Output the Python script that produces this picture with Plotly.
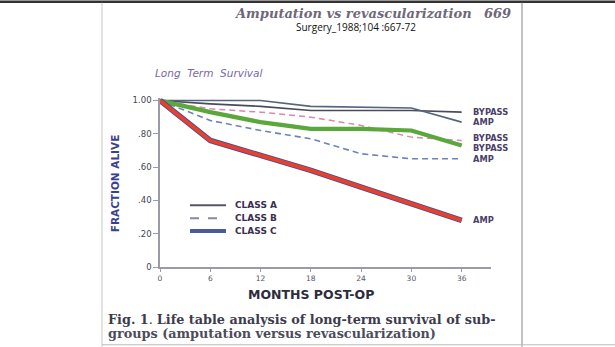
import plotly.graph_objects as go

# ---- data ----
months = [0, 6, 12, 18, 24, 30, 36]
class_a_bypass = [1.00, 0.98, 0.965, 0.94, 0.94, 0.94, 0.93]
class_a_amp = [1.00, 1.00, 1.00, 0.965, 0.96, 0.955, 0.87]
class_b_bypass = [1.00, 0.95, 0.93, 0.90, 0.85, 0.78, 0.76]
class_b_amp = [1.00, 0.88, 0.82, 0.77, 0.68, 0.65, 0.65]
class_c_bypass = [1.00, 0.93, 0.87, 0.83, 0.83, 0.82, 0.73]
class_c_amp = [1.00, 0.76, 0.67, 0.58, 0.48, 0.38, 0.28]
y_tick_vals = [0, 0.2, 0.4, 0.6, 0.8, 1.0]
y_tick_text = ["0", ".20", ".40", ".60", ".80", "1.00"]
x_tick_vals = months
x_tick_text = ["0", "6", "12", "18", "24", "30", "36"]
legend_names = ["CLASS A", "CLASS B", "CLASS C"]

W, H = 615, 347
L_PX, R_PX, T_PX, B_PX = 160, 491, 97.5, 267


def px(x):
    return (x - L_PX) / (R_PX - L_PX)


def py(y):
    return (B_PX - y) / (B_PX - T_PX)


fig = go.Figure()

series = [
    (class_b_amp, dict(color="#6d84b8", width=1.6, dash="6px,4px"), "AMP", 0),
    (class_b_bypass, dict(color="#d689a8", width=1.5, dash="6px,4px"), "BYPASS", 2),
    (class_a_bypass, dict(color="#4a4a5c", width=1.6), "BYPASS", 0),
    (class_a_amp, dict(color="#56647c", width=1.6), "AMP", 0),
    (class_c_bypass, dict(color="#5aa83c", width=4.2), "BYPASS", -3),
    (class_c_amp, dict(color="#3e4f98", width=5.5), None, 0),
    (class_c_amp, dict(color="#e8402c", width=3.8), "AMP", 0),
]

for vals, line, lab, ys in series:
    fig.add_trace(go.Scatter(x=months, y=vals, mode="lines", line=line,
                             showlegend=False, hoverinfo="skip"))
    if lab:
        fig.add_annotation(x=months[-1], y=vals[-1], text="<b>" + lab + "</b>",
                           showarrow=False, xanchor="left", yanchor="middle",
                           xshift=9, yshift=ys,
                           font=dict(family="DejaVu Sans", size=8.3, color="#4a4068"))

fig.update_xaxes(range=[0, 39.5], tickvals=x_tick_vals, ticktext=x_tick_text,
                 showline=True, linecolor="#9a9aa8", linewidth=1.5,
                 ticks="outside", ticklen=3, tickcolor="#9a9aa8",
                 showgrid=False, zeroline=False,
                 tickfont=dict(family="DejaVu Sans", size=7.5, color="#555566"))
fig.update_yaxes(range=[0, 1.015], tickvals=y_tick_vals, ticktext=y_tick_text,
                 showline=True, linecolor="#9a9aa8", linewidth=1.5,
                 ticks="outside", ticklen=5, tickcolor="#9a9aa8",
                 showgrid=False, zeroline=False,
                 tickfont=dict(family="DejaVu Sans", size=8.5, color="#444455"))

ann = []
# header
ann.append(dict(x=px(513), y=py(13), text="<b><i>Amputation vs revascularization</i></b>&nbsp;&nbsp;&nbsp;<b><i>669</i></b>",
                xanchor="right", yanchor="middle",
                font=dict(family="DejaVu Serif", size=13, color="#6e6878")))
ann.append(dict(x=px(356), y=py(26), text="Surgery_1988;104 :667-72",
                xanchor="center", yanchor="middle",
                font=dict(family="Open Sans", size=10, color="#111111")))
ann.append(dict(x=px(153), y=py(72), text="<i>Long  Term  Survival</i>",
                xanchor="left", yanchor="middle",
                font=dict(family="DejaVu Sans", size=10.5, color="#7868a8")))
ann.append(dict(x=px(115), y=py(183), text="<b>FRACTION ALIVE</b>", textangle=-90,
                xanchor="center", yanchor="middle",
                font=dict(family="DejaVu Sans", size=10.5, color="#3b3f8f")))
ann.append(dict(x=px(311), y=py(295), text="<b>MONTHS POST-OP</b>",
                xanchor="center", yanchor="middle",
                font=dict(family="DejaVu Sans", size=12.5, color="#2c2c3c")))
ann.append(dict(x=px(106), y=py(320),
                text="<b>Fig. 1</b>. <b>Life table analysis of long-term survival of sub-</b>",
                xanchor="left", yanchor="middle",
                font=dict(family="DejaVu Serif", size=12.8, color="#3c3c4c")))
ann.append(dict(x=px(106), y=py(334),
                text="<b>groups (amputation versus revascularization)</b>",
                xanchor="left", yanchor="middle",
                font=dict(family="DejaVu Serif", size=12.8, color="#4c4c5c")))

# legend (manual)
leg_y = [205, 218, 231]
leg_styles = [dict(color="#55556a", width=2),
              dict(color="#8888a8", width=2, dash="dash"),
              dict(color="#4a5c98", width=4)]
shapes = []
for name, yy, st in zip(legend_names, leg_y, leg_styles):
    shapes.append(dict(type="line", xref="paper", yref="paper",
                       x0=px(190), x1=px(226), y0=py(yy), y1=py(yy), line=st))
    ann.append(dict(x=px(233), y=py(yy), text="<b>" + name + "</b>",
                    xanchor="left", yanchor="middle",
                    font=dict(family="DejaVu Sans", size=9, color="#3a3050")))

for a in ann:
    a.update(xref="paper", yref="paper", showarrow=False)
    fig.add_annotation(**a)

# page borders of the scan
shapes.append(dict(type="line", xref="paper", yref="paper",
                   x0=px(0), x1=px(W), y0=py(1), y1=py(1),
                   line=dict(color="#333333", width=2.5)))
shapes.append(dict(type="line", xref="paper", yref="paper",
                   x0=px(102), x1=px(102), y0=py(2), y1=py(347),
                   line=dict(color="#c8c8c8", width=1)))
shapes.append(dict(type="line", xref="paper", yref="paper",
                   x0=px(522), x1=px(522), y0=py(2), y1=py(347),
                   line=dict(color="#999999", width=1.2)))
shapes.append(dict(type="line", xref="paper", yref="paper",
                   x0=px(102), x1=px(615), y0=py(345), y1=py(345),
                   line=dict(color="#bbbbbb", width=1)))

fig.update_layout(width=W, height=H, autosize=False,
                  margin=dict(l=L_PX, r=W - R_PX, t=T_PX, b=H - B_PX, pad=0),
                  paper_bgcolor="white", plot_bgcolor="white",
                  shapes=shapes, showlegend=False)

fig.write_html("out.html")
